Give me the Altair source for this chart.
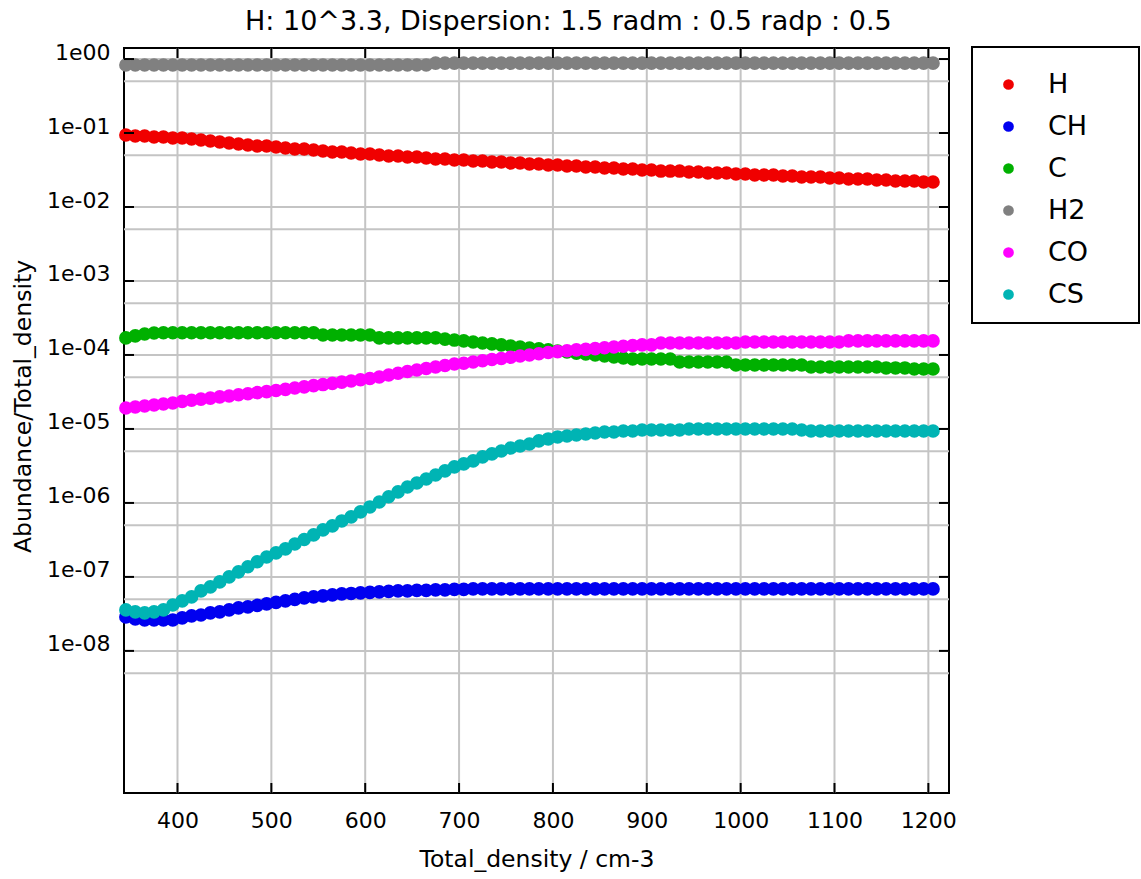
import json
import altair as alt
import pandas as pd

# ---------------- data ----------------
density = [345, 355, 365, 375, 385, 395, 405, 415, 425, 435,
           445, 455, 465, 475, 485, 495, 505, 515, 525, 535,
           545, 555, 565, 575, 585, 595, 605, 615, 625, 635,
           645, 655, 665, 675, 685, 695, 705, 715, 725, 735,
           745, 755, 765, 775, 785, 795, 805, 815, 825, 835,
           845, 855, 865, 875, 885, 895, 905, 915, 925, 935,
           945, 955, 965, 975, 985, 995, 1005, 1015, 1025, 1035,
           1045, 1055, 1065, 1075, 1085, 1095, 1105, 1115, 1125, 1135,
           1145, 1155, 1165, 1175, 1185, 1195, 1205]

ab_H = [0.094, 0.091, 0.091, 0.0883, 0.0883, 0.0856, 0.0856, 0.0829, 0.0804, 0.078,
        0.0756, 0.0733, 0.071, 0.0689, 0.0668, 0.0668, 0.0647, 0.0627, 0.0608, 0.0608,
        0.0589, 0.0571, 0.0554, 0.0554, 0.0537, 0.052, 0.052, 0.0504, 0.0489, 0.0489,
        0.0474, 0.0474, 0.0459, 0.0445, 0.0445, 0.0432, 0.0432, 0.0419, 0.0419, 0.0406,
        0.0406, 0.0393, 0.0393, 0.0381, 0.0381, 0.037, 0.037, 0.0358, 0.0358, 0.0347,
        0.0347, 0.0337, 0.0337, 0.0326, 0.0326, 0.0316, 0.0316, 0.0306, 0.0306, 0.0306,
        0.0297, 0.0297, 0.0288, 0.0288, 0.0288, 0.0279, 0.0279, 0.0271, 0.0271, 0.0271,
        0.0262, 0.0262, 0.0254, 0.0254, 0.0254, 0.0247, 0.0247, 0.0239, 0.0239, 0.0239,
        0.0232, 0.0232, 0.0225, 0.0225, 0.0225, 0.0218, 0.0218]

ab_CH = [2.88e-8, 2.70e-8, 2.62e-8, 2.62e-8, 2.62e-8, 2.62e-8, 2.79e-8, 2.97e-8, 3.06e-8, 3.27e-8,
         3.37e-8, 3.58e-8, 3.81e-8, 3.93e-8, 4.12e-8, 4.32e-8, 4.52e-8, 4.74e-8, 4.97e-8, 5.20e-8,
         5.37e-8, 5.54e-8, 5.71e-8, 5.89e-8, 5.98e-8, 6.08e-8, 6.18e-8, 6.27e-8, 6.37e-8, 6.47e-8,
         6.47e-8, 6.57e-8, 6.57e-8, 6.68e-8, 6.68e-8, 6.78e-8, 6.78e-8, 6.89e-8, 6.89e-8, 6.89e-8,
         6.89e-8, 6.89e-8, 6.89e-8, 6.89e-8, 6.89e-8, 6.89e-8, 6.89e-8, 6.89e-8, 6.89e-8, 6.89e-8,
         6.89e-8, 6.89e-8, 6.89e-8, 6.89e-8, 6.89e-8, 6.89e-8, 6.89e-8, 6.89e-8, 6.89e-8, 6.89e-8,
         6.89e-8, 6.89e-8, 6.89e-8, 6.89e-8, 6.89e-8, 6.89e-8, 6.89e-8, 6.89e-8, 6.89e-8, 6.89e-8,
         6.89e-8, 6.89e-8, 6.89e-8, 6.89e-8, 6.89e-8, 6.89e-8, 6.89e-8, 6.89e-8, 6.89e-8, 6.89e-8,
         6.89e-8, 6.89e-8, 6.89e-8, 6.89e-8, 6.89e-8, 6.89e-8, 6.89e-8]

ab_C = [1.70e-4, 1.81e-4, 1.92e-4, 1.98e-4, 2.0e-4, 2.0e-4, 2.0e-4, 2.0e-4, 2.0e-4, 2.0e-4,
        2.0e-4, 2.0e-4, 2.0e-4, 2.0e-4, 2.0e-4, 2.0e-4, 2.0e-4, 2.0e-4, 2.0e-4, 2.0e-4,
        2.0e-4, 1.86e-4, 1.86e-4, 1.86e-4, 1.86e-4, 1.86e-4, 1.86e-4, 1.70e-4, 1.70e-4, 1.70e-4,
        1.70e-4, 1.70e-4, 1.70e-4, 1.70e-4, 1.64e-4, 1.59e-4, 1.55e-4, 1.50e-4, 1.45e-4, 1.41e-4,
        1.37e-4, 1.32e-4, 1.28e-4, 1.24e-4, 1.21e-4, 1.17e-4, 1.13e-4, 1.10e-4, 1.06e-4, 1.03e-4,
        1.0e-4, 9.69e-5, 9.39e-5, 9.10e-5, 8.83e-5, 8.83e-5, 8.83e-5, 8.83e-5, 8.83e-5, 8.04e-5,
        8.04e-5, 8.04e-5, 8.04e-5, 8.04e-5, 8.04e-5, 7.33e-5, 7.33e-5, 7.33e-5, 7.33e-5, 7.33e-5,
        7.33e-5, 7.33e-5, 7.33e-5, 6.89e-5, 6.89e-5, 6.89e-5, 6.89e-5, 6.89e-5, 6.89e-5, 6.89e-5,
        6.89e-5, 6.68e-5, 6.68e-5, 6.68e-5, 6.47e-5, 6.47e-5, 6.47e-5]

ab_H2 = [0.83, 0.83, 0.83, 0.83, 0.83, 0.83, 0.83, 0.83, 0.83, 0.83,
         0.83, 0.83, 0.83, 0.83, 0.83, 0.83, 0.83, 0.83, 0.83, 0.83,
         0.83, 0.83, 0.83, 0.83, 0.83, 0.83, 0.83, 0.83, 0.83, 0.83,
         0.83, 0.83, 0.83, 0.88, 0.88, 0.88, 0.88, 0.88, 0.88, 0.88,
         0.88, 0.88, 0.88, 0.88, 0.88, 0.88, 0.88, 0.88, 0.88, 0.88,
         0.88, 0.88, 0.88, 0.88, 0.88, 0.88, 0.88, 0.88, 0.88, 0.88,
         0.88, 0.88, 0.88, 0.88, 0.88, 0.88, 0.88, 0.88, 0.88, 0.88,
         0.88, 0.88, 0.88, 0.88, 0.88, 0.88, 0.88, 0.88, 0.88, 0.88,
         0.88, 0.88, 0.88, 0.88, 0.88, 0.88, 0.88]

ab_CO = [1.92e-5, 1.98e-5, 2.04e-5, 2.11e-5, 2.17e-5, 2.24e-5, 2.36e-5, 2.44e-5, 2.53e-5, 2.61e-5,
         2.71e-5, 2.79e-5, 2.90e-5, 2.99e-5, 3.10e-5, 3.20e-5, 3.31e-5, 3.43e-5, 3.57e-5, 3.70e-5,
         3.85e-5, 3.98e-5, 4.13e-5, 4.29e-5, 4.45e-5, 4.62e-5, 4.81e-5, 5.04e-5, 5.37e-5, 5.66e-5,
         5.97e-5, 6.27e-5, 6.57e-5, 6.89e-5, 7.21e-5, 7.56e-5, 7.74e-5, 8.04e-5, 8.35e-5, 8.67e-5,
         8.97e-5, 9.33e-5, 9.69e-5, 1.0e-4, 1.04e-4, 1.08e-4, 1.11e-4, 1.14e-4, 1.17e-4, 1.19e-4,
         1.22e-4, 1.25e-4, 1.28e-4, 1.31e-4, 1.34e-4, 1.37e-4, 1.37e-4, 1.45e-4, 1.45e-4, 1.45e-4,
         1.45e-4, 1.45e-4, 1.45e-4, 1.45e-4, 1.45e-4, 1.45e-4, 1.50e-4, 1.50e-4, 1.50e-4, 1.50e-4,
         1.50e-4, 1.50e-4, 1.50e-4, 1.50e-4, 1.50e-4, 1.50e-4, 1.50e-4, 1.55e-4, 1.55e-4, 1.55e-4,
         1.55e-4, 1.55e-4, 1.55e-4, 1.55e-4, 1.55e-4, 1.55e-4, 1.55e-4]

ab_CS = [3.58e-8, 3.37e-8, 3.27e-8, 3.37e-8, 3.58e-8, 4.18e-8, 4.74e-8, 5.37e-8, 6.47e-8, 7.33e-8,
         8.56e-8, 1.0e-7, 1.17e-7, 1.37e-7, 1.60e-7, 1.86e-7, 2.11e-7, 2.39e-7, 2.79e-7, 3.21e-7,
         3.70e-7, 4.32e-7, 4.89e-7, 5.71e-7, 6.47e-7, 7.56e-7, 8.83e-7, 1.03e-6, 1.21e-6, 1.41e-6,
         1.64e-6, 1.86e-6, 2.11e-6, 2.39e-6, 2.71e-6, 3.07e-6, 3.37e-6, 3.70e-6, 4.19e-6, 4.60e-6,
         5.04e-6, 5.53e-6, 5.89e-6, 6.27e-6, 6.89e-6, 7.33e-6, 7.80e-6, 8.04e-6, 8.29e-6, 8.56e-6,
         8.83e-6, 9.10e-6, 9.10e-6, 9.39e-6, 9.39e-6, 9.69e-6, 9.69e-6, 9.69e-6, 9.69e-6, 9.69e-6,
         1.0e-5, 1.0e-5, 1.0e-5, 1.0e-5, 1.0e-5, 1.0e-5, 1.0e-5, 1.0e-5, 1.0e-5, 1.0e-5,
         1.0e-5, 1.0e-5, 9.69e-6, 9.39e-6, 9.39e-6, 9.39e-6, 9.39e-6, 9.39e-6, 9.39e-6, 9.39e-6,
         9.39e-6, 9.39e-6, 9.39e-6, 9.39e-6, 9.39e-6, 9.39e-6, 9.39e-6]

species = ["H", "CH", "C", "H2", "CO", "CS"]
series = [ab_H, ab_CH, ab_C, ab_H2, ab_CO, ab_CS]
colors = ["#f00000", "#0000f0", "#00b000", "#808080", "#ff00ff", "#00b4b4"]

x_ticks = [400, 500, 600, 700, 800, 900, 1000, 1100, 1200]
y_ticks = [1, 1e-1, 1e-2, 1e-3, 1e-4, 1e-5, 1e-6, 1e-7, 1e-8]
y_tick_labels = ["1e00", "1e-01", "1e-02", "1e-03", "1e-04", "1e-05", "1e-06", "1e-07", "1e-08"]
y_grid = [1, 0.5, 1e-1, 5e-2, 1e-2, 5e-3, 1e-3, 5e-4, 1e-4, 5e-5, 1e-5, 5e-6,
          1e-6, 5e-7, 1e-7, 5e-8, 1e-8, 5e-9]
title_text = "H: 10^3.3, Dispersion: 1.5 radm : 0.5 radp : 0.5"
x_title = "Total_density / cm-3"
y_title = "Abundance/Total_density"

# ---------------- chart ----------------
FONT = "DejaVu Sans"
W, HGT = 825, 745
GRID = "#c4c4c4"

rows = []
for name, vals in zip(species, series):
    for x, v in zip(density, vals):
        rows.append({"density": x, "abundance": v, "species": name})
df = pd.DataFrame(rows)

xscale = alt.Scale(domain=[343, 1222], nice=False, zero=False)
yscale = alt.Scale(type="log", domain=[1.2e-10, 1.41], nice=False)

label_expr = json.dumps(y_tick_labels) + "[round(-log(datum.value)/LN10)]"

x_axis = alt.Axis(title=x_title, values=x_ticks, format="d", grid=False, ticks=False,
                  domain=False, labelFontSize=22, labelFont=FONT,
                  labelColor="black", labelPadding=17, titleFontSize=23.5,
                  titleFont=FONT, titleFontWeight="normal", titleColor="black",
                  titlePadding=16)
y_axis = alt.Axis(title=y_title, values=y_ticks, labelExpr=label_expr,
                  grid=False, ticks=False, domain=False, labelFontSize=22,
                  labelFont=FONT, labelColor="black", labelPadding=14,
                  labelOffset=-7, titleFontSize=23.5, titleFont=FONT,
                  titleFontWeight="normal", titleColor="black",
                  titleX=-101, titleY=358, titleBaseline="middle")

xt_df = pd.DataFrame({"gx": x_ticks})
yt_df = pd.DataFrame({"gy": y_ticks})
yg_df = pd.DataFrame({"gy": y_grid})

grid_x = alt.Chart(xt_df).mark_rule(color=GRID, strokeWidth=2).encode(
    x=alt.X("gx:Q", scale=xscale, axis=x_axis), y=alt.value(0), y2=alt.value(HGT))
grid_y = alt.Chart(yg_df).mark_rule(color=GRID, strokeWidth=2).encode(
    y=alt.Y("gy:Q", scale=yscale, axis=y_axis), x=alt.value(0), x2=alt.value(W))

tick_b = alt.Chart(xt_df).mark_rule(color="black", strokeWidth=2).encode(
    x=alt.X("gx:Q", scale=xscale, axis=x_axis), y=alt.value(HGT - 10), y2=alt.value(HGT))
tick_t = alt.Chart(xt_df).mark_rule(color="black", strokeWidth=2).encode(
    x=alt.X("gx:Q", scale=xscale, axis=x_axis), y=alt.value(0), y2=alt.value(10))
tick_l = alt.Chart(yt_df).mark_rule(color="black", strokeWidth=2).encode(
    y=alt.Y("gy:Q", scale=yscale, axis=y_axis), x=alt.value(0), x2=alt.value(10))
tick_r = alt.Chart(yt_df).mark_rule(color="black", strokeWidth=2).encode(
    y=alt.Y("gy:Q", scale=yscale, axis=y_axis), x=alt.value(W - 10), x2=alt.value(W))

points = alt.Chart(df).mark_circle(size=185, opacity=1).encode(
    x=alt.X("density:Q", scale=xscale, axis=x_axis),
    y=alt.Y("abundance:Q", scale=yscale, axis=y_axis),
    color=alt.Color("species:N", scale=alt.Scale(domain=species, range=colors),
                    legend=alt.Legend(title=None, orient="none", legendX=871, legendY=23,
                                      symbolType="circle", symbolSize=115,
                                      symbolStrokeWidth=0, labelFontSize=27,
                                      labelFont=FONT, labelColor="black",
                                      labelOffset=26, rowPadding=14, padding=0)),
)

legend_box = alt.Chart(pd.DataFrame({"k": [0]})).mark_rect(
    fillOpacity=0, stroke="black", strokeWidth=2).encode(
    x=alt.value(848), x2=alt.value(1015), y=alt.value(-1), y2=alt.value(275))

title = alt.Chart(pd.DataFrame({"t": [title_text]})).mark_text(
    align="left", baseline="alphabetic", fontSize=27, font=FONT, color="black",
    limit=656, ellipsis="").encode(text="t:N", x=alt.value(121), y=alt.value(-18))

chart = alt.layer(grid_x, grid_y, points, tick_b, tick_t, tick_l, tick_r,
                  legend_box, title).properties(
    width=W, height=HGT,
    padding={"left": 124, "top": 48, "right": 192, "bottom": 86},
    autosize="none",
    background="white",
).configure_view(stroke="black", strokeWidth=2)

chart.save("out.html", embed_options={"renderer": "svg", "actions": False})
